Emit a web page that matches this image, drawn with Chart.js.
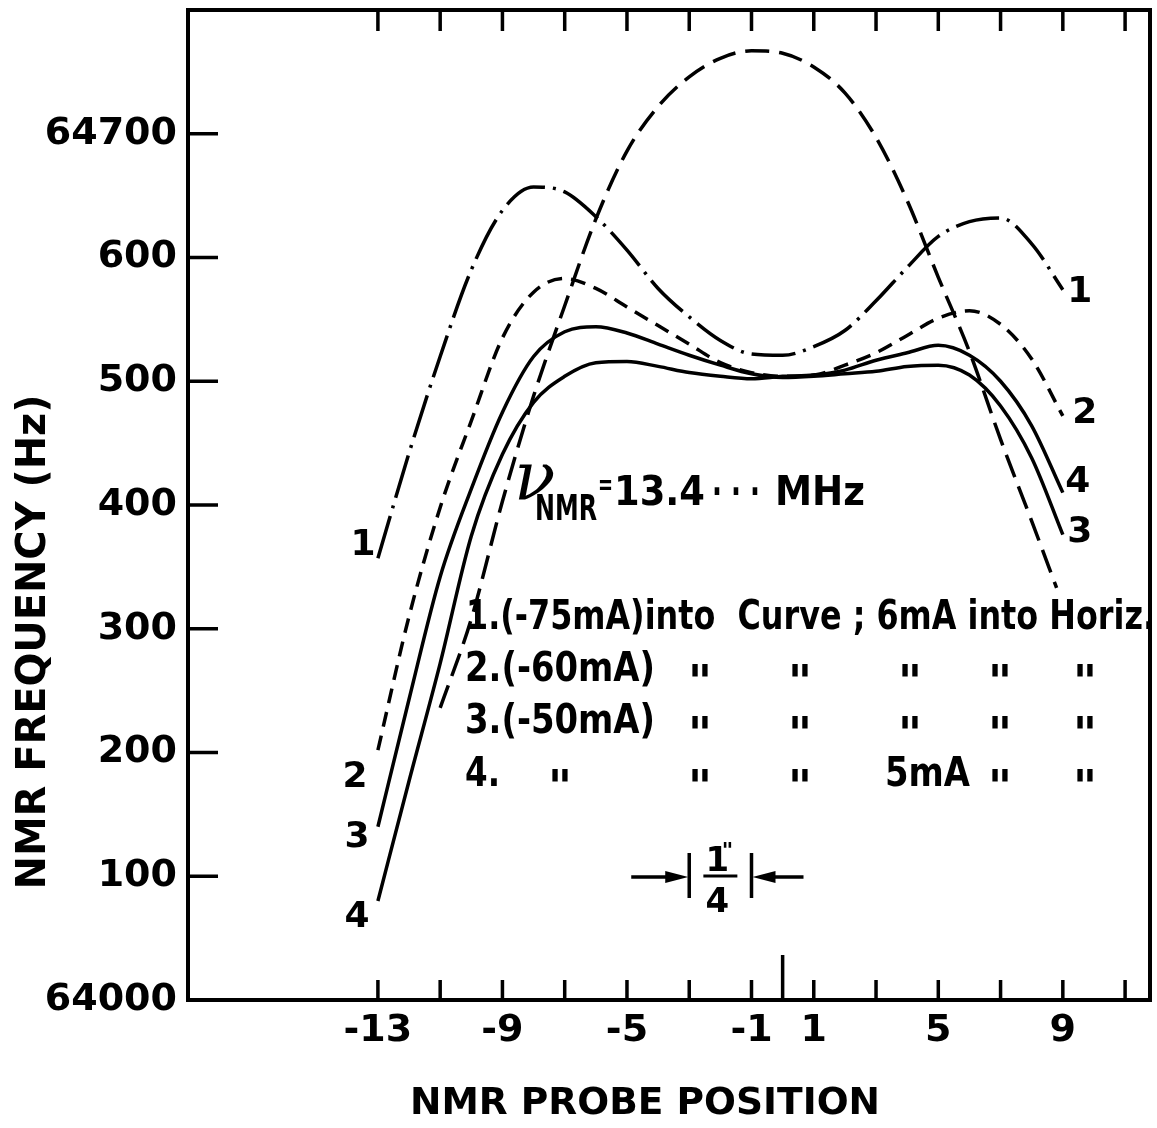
<!DOCTYPE html>
<html>
<head>
<meta charset="utf-8">
<script src="https://cdn.jsdelivr.net/npm/chart.js@4.4.1/dist/chart.umd.min.js"></script>
<style>
html,body{margin:0;padding:0;background:#fff;}
#wrap{width:1157px;height:1128px;}
</style>
</head>
<body>
<div id="wrap"><canvas id="c" width="1157" height="1128"></canvas></div>
<script>
// ---- data ----
const positions = [-13,-12,-11,-10,-9,-8,-7,-6,-5,-4,-3,-2,-1,0,1,2,3,4,5,6,7,8,9];
const curve1 = [64357,64442,64520,64590,64638,64657,64653,64633,64606,64575,64552,64533,64522,64521,64528,64541,64565,64592,64617,64629,64632,64611,64574];
const curve2 = [64202,64310,64398,64468,64535,64572,64583,64575,64560,64545,64530,64515,64507,64504,64505,64513,64523,64537,64551,64557,64546,64518,64472];
const curve3 = [64140,64243,64342,64413,64475,64520,64540,64544,64539,64530,64521,64513,64506,64503,64504,64506,64508,64512,64513,64505,64480,64438,64376];
const curve4 = [64080,64177,64272,64375,64441,64483,64504,64515,64516,64512,64507,64504,64502,64504,64505,64509,64517,64523,64529,64521,64500,64464,64410];
const widePositions = [-11,-10,-9,-8,-7,-6,-5,-4,-3,-2,-1,0,1,2,3,4,5,6,7,8,8.8];
const wideCurve = [64236,64308,64403,64488,64561,64631,64686,64722,64746,64761,64767,64765,64754,64733,64697,64646,64584,64524,64453,64387,64333];

const curveNames = ['1','2','3','4'];
const xLabelValues = [-13,-9,-5,-1,1,5,9];
const xTickMarks = [-13,-11,-9,-7,-5,-3,-1,1,3,5,7,9,11];
const yTickValues = [64000,64100,64200,64300,64400,64500,64600,64700];
const yLabels = ['64000','100','200','300','400','500','600','64700'];

const xTitle = 'NMR PROBE POSITION';
const yTitle = 'NMR FREQUENCY (Hz)';
const legendLines = ['1.(-75mA)into  Curve ; 6mA into Horiz.', '2.(-60mA)', '3.(-50mA)', '4.'];
const ditto = '"';

const FAM = '"DejaVu Sans", sans-serif';

function pts(xs, ys){ return xs.map((x,i)=>({x:x, y:ys[i]})); }

function fitText(ctx, text, x, y, width, font, align){
  ctx.save();
  ctx.font = font;
  ctx.textBaseline = 'alphabetic';
  ctx.textAlign = 'left';
  const w = ctx.measureText(text).width;
  const sx = width ? width / w : 1;
  let x0 = x;
  if (align === 'center') x0 = x - (width || w) / 2;
  ctx.translate(x0, y);
  ctx.scale(sx, 1);
  ctx.fillText(text, 0, 0);
  ctx.restore();
}

const annot = {
  id: 'annot',
  afterDraw(chart){
    const ctx = chart.ctx, xs = chart.scales.x, ys = chart.scales.y, a = chart.chartArea;
    ctx.save();
    ctx.strokeStyle = '#000';
    ctx.fillStyle = '#000';
    // frame
    ctx.lineWidth = 4;
    ctx.strokeRect(a.left, a.top, a.right - a.left, a.bottom - a.top);
    // inward ticks
    ctx.lineWidth = 3.5;
    ctx.beginPath();
    xTickMarks.forEach(v => {
      const px = xs.getPixelForValue(v);
      ctx.moveTo(px, a.bottom); ctx.lineTo(px, a.bottom - 20);
      ctx.moveTo(px, a.top); ctx.lineTo(px, a.top + 21);
    });
    const c0 = xs.getPixelForValue(0);
    ctx.moveTo(c0, a.bottom); ctx.lineTo(c0, a.bottom - 45);
    yTickValues.slice(1).forEach(v => {
      const py = ys.getPixelForValue(v);
      ctx.moveTo(a.left, py); ctx.lineTo(a.left + 30, py);
    });
    ctx.stroke();

    // axis titles
    fitText(ctx, xTitle, 645, 1114, 470, 'bold 38px ' + FAM, 'center');
    ctx.save();
    ctx.translate(45, 642);
    ctx.rotate(-Math.PI/2);
    fitText(ctx, yTitle, 0, 0, 495, 'bold 41px ' + FAM, 'center');
    ctx.restore();

    // curve end labels
    const leftOff = [[-15,-13],[-23,28],[-21,11],[-21,17]];
    const rightOff = [[17,3],[22,-2],[17,-2],[15,-10]];
    ctx.font = 'bold 36px ' + FAM;
    ctx.textAlign = 'center';
    ctx.textBaseline = 'middle';
    chart.data.datasets.slice(0,4).forEach((ds,i) => {
      const p0 = ds.data[0], p1 = ds.data[ds.data.length-1];
      ctx.fillText(curveNames[i], xs.getPixelForValue(p0.x) + leftOff[i][0], ys.getPixelForValue(p0.y) + leftOff[i][1]);
      ctx.fillText(curveNames[i], xs.getPixelForValue(p1.x) + rightOff[i][0], ys.getPixelForValue(p1.y) + rightOff[i][1]);
    });

    // nu_NMR annotation
    ctx.textAlign = 'left';
    ctx.textBaseline = 'alphabetic';
    ctx.font = 'italic 68px "DejaVu Serif", serif';
    ctx.fillText('\u03BD', 514, 500);
    fitText(ctx, 'NMR', 535, 520, 62, 'bold 36px ' + FAM);
    fitText(ctx, '=', 598, 494, 15, 'bold 28px ' + FAM);
    fitText(ctx, '13.4', 614, 505, 91, 'bold 41px ' + FAM);
    fitText(ctx, '\u00B7 \u00B7 \u00B7', 712, 505, 48, 'bold 41px ' + FAM);
    fitText(ctx, 'MHz', 775, 505, 90, 'bold 41px ' + FAM);

    // legend text
    const LF = 'bold 40px ' + FAM;
    fitText(ctx, legendLines[0], 466, 629, 689, LF);
    fitText(ctx, legendLines[1], 465, 681, 190, LF);
    fitText(ctx, legendLines[2], 465, 733, 190, LF);
    fitText(ctx, legendLines[3], 465, 786, 35, LF);
    ctx.font = 'bold 46px ' + FAM;
    ctx.textAlign = 'center';
    [681, 733].forEach(b => {
      [700, 800, 910, 1000, 1085].forEach(x => ctx.fillText(ditto, x, b + 17));
    });
    [560, 700, 800, 1000, 1085].forEach(x => ctx.fillText(ditto, x, 786 + 17));
    ctx.textAlign = 'left';
    fitText(ctx, '5mA', 885, 786, 85, LF);

    // 1/4 inch scale bar between two tick positions
    const x1 = xs.getPixelForValue(-3), x2 = xs.getPixelForValue(-1), yb = 877;
    ctx.lineWidth = 3.5;
    ctx.beginPath();
    ctx.moveTo(x1, 853); ctx.lineTo(x1, 898);
    ctx.moveTo(x2, 853); ctx.lineTo(x2, 898);
    ctx.moveTo(x1 - 58, yb); ctx.lineTo(x1 - 10, yb);
    ctx.moveTo(x2 + 10, yb); ctx.lineTo(x2 + 52, yb);
    ctx.stroke();
    ctx.beginPath();
    ctx.moveTo(x1 - 1, yb); ctx.lineTo(x1 - 24, yb - 6); ctx.lineTo(x1 - 24, yb + 6); ctx.closePath();
    ctx.moveTo(x2 + 1, yb); ctx.lineTo(x2 + 24, yb - 6); ctx.lineTo(x2 + 24, yb + 6); ctx.closePath();
    ctx.fill();
    const xm = (x1 + x2) / 2;
    ctx.lineWidth = 3;
    ctx.beginPath(); ctx.moveTo(xm - 17, yb - 1); ctx.lineTo(xm + 17, yb - 1); ctx.stroke();
    ctx.textAlign = 'center';
    ctx.font = 'bold 34px ' + FAM;
    ctx.fillText('1', xm - 3, 871);
    ctx.font = 'bold 22px ' + FAM;
    ctx.fillText('"', xm + 7, 858);
    ctx.font = 'bold 34px ' + FAM;
    ctx.fillText('4', xm - 3, 912);
    ctx.restore();
  }
};

const tickFont = {family: 'DejaVu Sans', size: 38, weight: 'bold'};

new Chart(document.getElementById('c'), {
  type: 'line',
  data: {
    datasets: [
      {label: 'Curve 1', data: pts(positions, curve1), borderColor: '#000', borderDash: [44,8,3,8]},
      {label: 'Curve 2', data: pts(positions, curve2), borderColor: '#000', borderDash: [15,9]},
      {label: 'Curve 3', data: pts(positions, curve3), borderColor: '#000'},
      {label: 'Curve 4', data: pts(positions, curve4), borderColor: '#000'},
      {label: 'Curve 5', data: pts(widePositions, wideCurve), borderColor: '#000', borderDash: [24,10]}
    ]
  },
  options: {
    responsive: false,
    animation: false,
    devicePixelRatio: 1,
    layout: {padding: {top: 10, right: 7, left: 0, bottom: 0}},
    plugins: {legend: {display: false}, tooltip: {enabled: false}},
    elements: {
      point: {radius: 0},
      line: {borderWidth: 3.5, cubicInterpolationMode: 'monotone', fill: false}
    },
    scales: {
      x: {
        type: 'linear', min: -19.1, max: 11.8,
        grid: {display: false, drawTicks: false},
        border: {display: false},
        afterFit: s => { s.height = 128; s.paddingLeft = 0; s.paddingRight = 0; },
        afterBuildTicks: s => { s.ticks = xLabelValues.map(v => ({value: v})); },
        ticks: {autoSkip: false, maxRotation: 0, padding: 8, color: '#000', font: tickFont,
                callback: v => String(v)}
      },
      y: {
        type: 'linear', min: 64000, max: 64800,
        grid: {display: false, drawTicks: false},
        border: {display: false},
        afterFit: s => { s.width = 188; s.paddingTop = 0; s.paddingBottom = 0; },
        afterBuildTicks: s => { s.ticks = yTickValues.map(v => ({value: v})); },
        ticks: {autoSkip: false, padding: 11, color: '#000', font: tickFont,
                callback: v => { const i = yTickValues.indexOf(v); return i >= 0 ? yLabels[i] : ''; }}
      }
    }
  },
  plugins: [annot]
});
</script>
</body>
</html>
